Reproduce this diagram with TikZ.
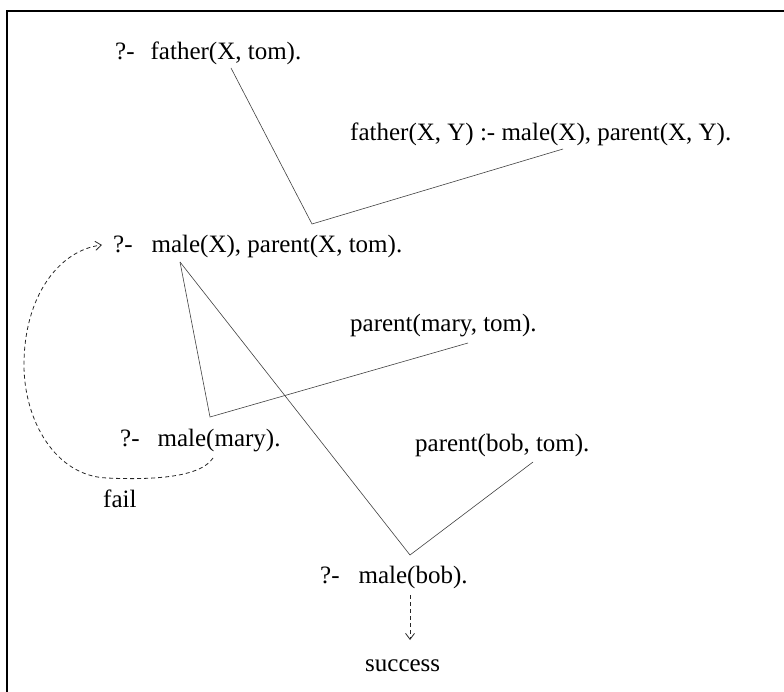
\documentclass[tikz,border=0pt]{standalone}
\usepackage{fontspec}
\setmainfont{Liberation Serif}
\usetikzlibrary{arrows.meta}
\begin{document}
\begin{tikzpicture}[x=1pt,y=-1pt,
  txt/.style={anchor=base west,inner sep=0pt,font=\fontsize{25}{30}\selectfont},
  edge/.style={draw=black!75,line width=0.6pt},
  retry/.style={draw=black!85,line width=0.8pt,dash pattern=on 4pt off 3pt,
    -{Straight Barb[length=6pt,width=9pt,line width=0.8pt]}},
  frame/.style={draw=black,line width=1.2pt}]
\useasboundingbox (0,0) rectangle (784,692);
\draw[frame] (7,700) -- (7,11) -- (790,11);

% goals, clause and facts
\node[txt] (q1) at (115,60) {?-\hspace{16pt}father(X, tom).};
\node[txt] (r1) at (350,141) {father(X, Y) :- male(X), parent(X, Y).};
\node[txt] (q2) at (113,253) {?-\hspace{19pt}male(X), parent(X, tom).};
\node[txt] (f1) at (350,331) {parent(mary, tom).};
\node[txt] (q3) at (120,446) {?-\hspace{18pt}male(mary).};
\node[txt] (f2) at (415,451) {parent(bob, tom).};
\node[txt] (fl) at (103,507) {fail};
\node[txt] (q4) at (320,583) {?-\hspace{19pt}male(bob).};
\node[txt] (ok) at (365,671) {success};

% resolution steps
\coordinate (a1) at (231,68);
\coordinate (v1) at (312,224);
\coordinate (a2) at (563,149);
\coordinate (b1) at (180,262);
\coordinate (v2) at (210,417);
\coordinate (b2) at (468,343);
\coordinate (v3) at (410,555);
\coordinate (b3) at (533,462);
\draw[edge] (a1) -- (v1) -- (a2);
\draw[edge] (b1) -- (v2) -- (b2);
\draw[edge] (b1) -- (v3) -- (b3);

% backtracking and success
\coordinate (bt0) at (213,458);
\coordinate (bt1) at (107,478);
\coordinate (bt2) at (24,365);
\coordinate (bt3) at (102,245);
\draw[retry] (bt0) .. controls (200,478) and (150,480) .. (bt1)
  .. controls (55,476) and (24,420) .. (bt2)
  .. controls (24,295) and (60,250) .. (bt3);
\coordinate (s0) at (410,595);
\coordinate (s1) at (410,640);
\draw[retry] (s0) -- (s1);
\end{tikzpicture}
\end{document}
